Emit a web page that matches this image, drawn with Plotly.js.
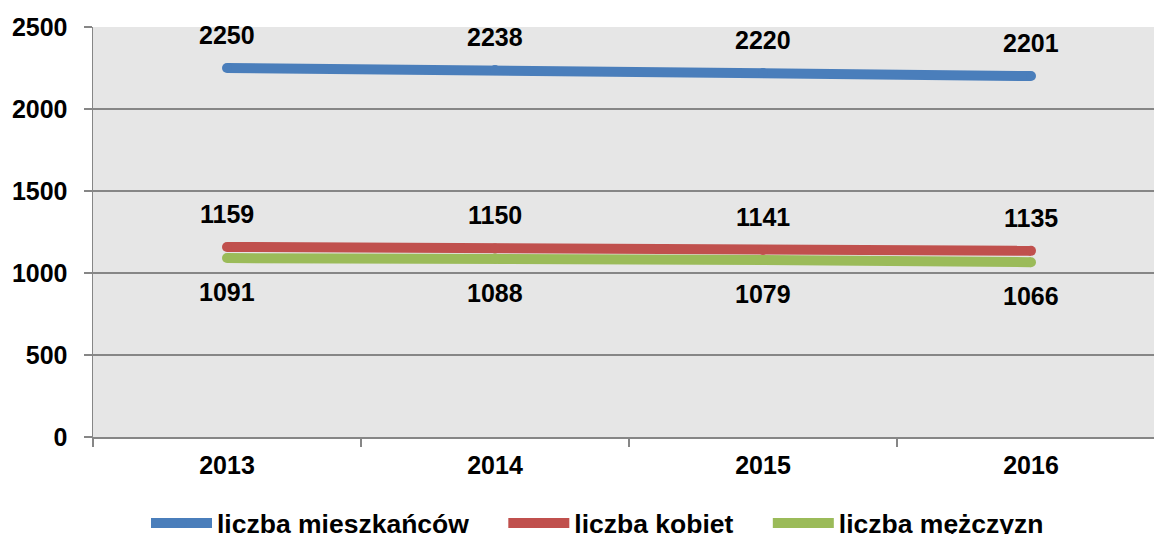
<!DOCTYPE html>
<html>
<head>
<meta charset="utf-8">
<script src="https://cdn.plot.ly/plotly-3.0.1.min.js"></script>
<style>
html,body{margin:0;padding:0;background:#fff;overflow:hidden;}
#chart{width:1154px;height:534px;}
</style>
</head>
<body>
<div id="chart"></div>
<script>
const years = ["2013", "2014", "2015", "2016"];
const mieszkancy = [2250, 2238, 2220, 2201];
const kobiety = [1159, 1150, 1141, 1135];
const mezczyzni = [1091, 1088, 1079, 1066];
const seriesNames = ["liczba mieszkańców", "liczba kobiet", "liczba mężczyzn"];
const seriesColors = ["#4A7EBB", "#C0504D", "#9BBB59"];
const labelShift = [33, 33, -34];

const FONT = "Liberation Sans, Arial, Helvetica, sans-serif";
const FS = 25;
const LFS = 26.5;
const allSeries = [mieszkancy, kobiety, mezczyzni];
const NB = "\u00A0\u00A0\u00A0\u00A0";

const traces = allSeries.map((vals, i) => ({
  x: years,
  y: vals,
  type: "scatter",
  mode: "lines+markers",
  name: seriesNames[i] + (i < allSeries.length - 1 ? NB : ""),
  line: {color: seriesColors[i], width: 10},
  marker: {color: seriesColors[i], size: 10, line: {width: 0}},
  hoverinfo: "skip"
}));

const annotations = [];
allSeries.forEach((vals, i) => {
  vals.forEach((v, j) => {
    annotations.push({
      x: j, y: v, xref: "x", yref: "y",
      text: String(v), showarrow: false,
      yshift: labelShift[i],
      font: {family: FONT, size: FS, color: "#000", weight: "bold"}
    });
  });
});

const layout = {
  width: 1154, height: 534,
  margin: {l: 93, r: 0, t: 27, b: 97},
  paper_bgcolor: "#ffffff",
  plot_bgcolor: "#E6E6E6",
  font: {family: FONT, size: FS, color: "#000", weight: "bold"},
  showlegend: true,
  legend: {
    orientation: "h",
    xref: "paper", x: (146 - 93) / 1061, xanchor: "left",
    yref: "container", y: 0.02, yanchor: "middle",
    itemwidth: 61,
    font: {family: FONT, size: LFS, color: "#000", weight: "bold"},
    bgcolor: "rgba(0,0,0,0)"
  },
  xaxis: {
    type: "category",
    range: [-0.5, 3.459],
    tickson: "boundaries",
    ticks: "outside", ticklen: 8, tickcolor: "#868686", tickwidth: 1.5,
    showgrid: false,
    showline: true, linecolor: "#868686", linewidth: 1.5,
    zeroline: false,
    ticklabelstandoff: 5,
    tickfont: {family: FONT, size: FS, color: "#000", weight: "bold"},
    fixedrange: true
  },
  yaxis: {
    range: [0, 2500],
    dtick: 500, tick0: 0,
    ticks: "outside", ticklen: 8, tickcolor: "#868686", tickwidth: 1.5,
    showgrid: true, gridcolor: "#868686", gridwidth: 1.2,
    showline: true, linecolor: "#868686", linewidth: 1.5,
    zeroline: false,
    ticklabelstandoff: 11,
    tickfont: {family: FONT, size: FS, color: "#000", weight: "bold"},
    fixedrange: true
  },
  annotations: annotations
};

Plotly.newPlot("chart", traces, layout, {displayModeBar: false, staticPlot: true});
</script>
</body>
</html>
